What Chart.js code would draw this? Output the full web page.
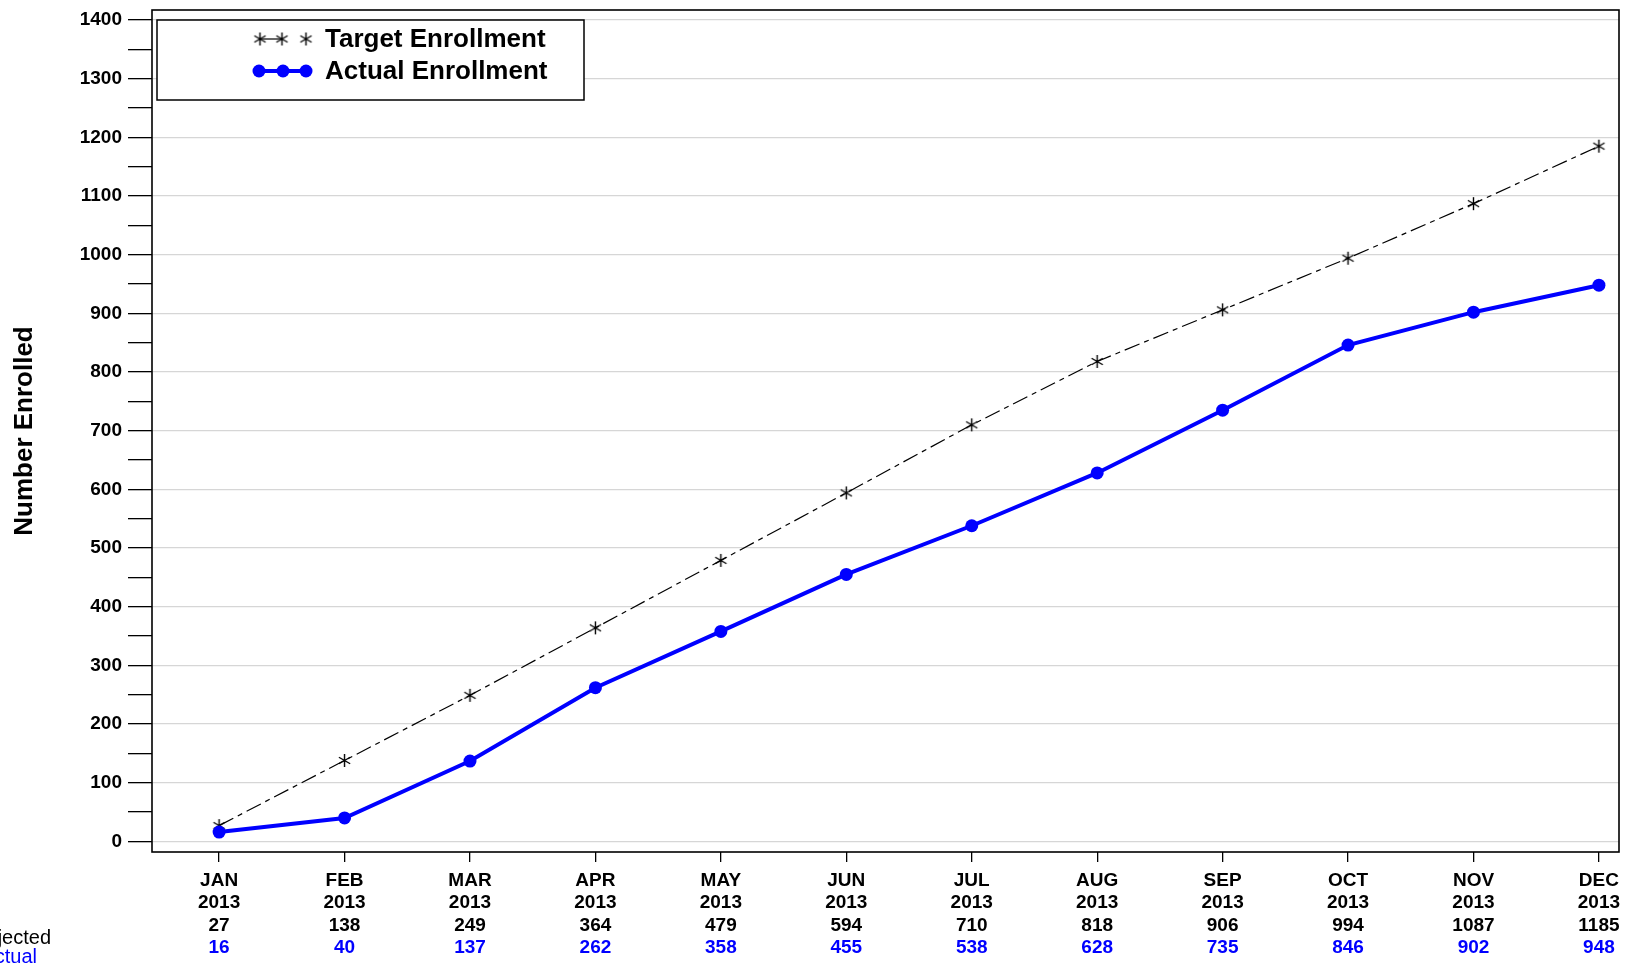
<!DOCTYPE html>
<html>
<head>
<meta charset="utf-8">
<script src="https://cdn.jsdelivr.net/npm/chart.js@4.4.1/dist/chart.umd.min.js"></script>
<style>
  html, body { margin: 0; padding: 0; background: #fff; }
  #wrap { position: relative; width: 1633px; height: 968px; }
</style>
</head>
<body>
<div id="wrap"><canvas id="enroll"></canvas></div>
<script>
// values
var months   = ['JAN', 'FEB', 'MAR', 'APR', 'MAY', 'JUN', 'JUL', 'AUG', 'SEP', 'OCT', 'NOV', 'DEC'];
var years    = ['2013', '2013', '2013', '2013', '2013', '2013', '2013', '2013', '2013', '2013', '2013', '2013'];
var target   = [27, 138, 249, 364, 479, 594, 710, 818, 906, 994, 1087, 1185];
var actual   = [16, 40, 137, 262, 358, 455, 538, 628, 735, 846, 902, 948];
var rowNames = ['Projected', 'Actual'];

var BLUE = '#0000ff';
var FONT = "'Liberation Sans', Arial, Helvetica, sans-serif";

// six-spoke asterisk used as the target marker
function makeAsterisk(size) {
  var c = document.createElement('canvas');
  c.width = size; c.height = size;
  var g = c.getContext('2d');
  var r = size / 2 - 1, m = size / 2;
  g.strokeStyle = '#000';
  g.lineWidth = 1.4;
  g.beginPath();
  [90, 30, -30].forEach(function (deg) {
    var a = deg * Math.PI / 180;
    g.moveTo(m - r * Math.cos(a), m - r * Math.sin(a));
    g.lineTo(m + r * Math.cos(a), m + r * Math.sin(a));
  });
  g.stroke();
  return c;
}
var star = makeAsterisk(15);

function toPoints(arr) {
  return arr.map(function (v, i) { return { x: i, y: v }; });
}

// frame, custom legend and the four-row x labels
var decor = {
  id: 'decor',
  afterDraw: function (chart) {
    var ctx = chart.ctx, a = chart.chartArea, xs = chart.scales.x;
    ctx.save();

    ctx.strokeStyle = '#000';
    ctx.lineWidth = 1.6;
    ctx.strokeRect(a.left, a.top, a.right - a.left, a.bottom - a.top);

    // legend box
    ctx.fillStyle = '#fff';
    ctx.fillRect(157, 20, 427, 80);
    ctx.lineWidth = 1.5;
    ctx.strokeRect(157, 20, 427, 80);

    var dsT = chart.data.datasets[1], dsA = chart.data.datasets[0];
    ctx.strokeStyle = '#000'; ctx.lineWidth = 1.2;
    ctx.beginPath(); ctx.moveTo(260, 39); ctx.lineTo(282, 39); ctx.stroke();
    [260, 282, 306].forEach(function (x) { ctx.drawImage(star, x - 7.5, 39 - 7.5); });

    ctx.strokeStyle = BLUE; ctx.lineWidth = 4;
    ctx.beginPath(); ctx.moveTo(259, 71); ctx.lineTo(306, 71); ctx.stroke();
    ctx.fillStyle = BLUE;
    [259, 283, 306].forEach(function (x) { ctx.beginPath(); ctx.arc(x, 71, 6.5, 0, Math.PI * 2); ctx.fill(); });

    ctx.fillStyle = '#000';
    ctx.font = 'bold 26px ' + FONT;
    ctx.textAlign = 'left'; ctx.textBaseline = 'middle';
    ctx.fillText(dsT.label, 325, 40);
    ctx.fillText(dsA.label, 325, 72);

    // x labels
    ctx.font = 'bold 19px ' + FONT;
    ctx.textAlign = 'center'; ctx.textBaseline = 'alphabetic';
    months.forEach(function (m, i) {
      var x = xs.getPixelForValue(i);
      ctx.fillStyle = '#000';
      ctx.fillText(m, x, 885.5);
      ctx.fillText(years[i], x, 908);
      ctx.fillText(String(target[i]), x, 930.5);
      ctx.fillStyle = BLUE;
      ctx.fillText(String(actual[i]), x, 953);
    });

    // row names, cut off at the left edge as in the original
    ctx.font = '20px ' + FONT;
    ctx.textAlign = 'right';
    ctx.fillStyle = '#000';
    ctx.fillText(rowNames[0], 51, 944);
    ctx.fillStyle = BLUE;
    ctx.fillText(rowNames[1], 37, 963);
    ctx.restore();
  }
};

new Chart(document.getElementById('enroll').getContext('2d'), {
  type: 'line',
  data: {
    datasets: [
      {
        label:            'Actual Enrollment',
        data:             toPoints(actual),
        borderColor:      BLUE,
        backgroundColor:  BLUE,
        borderWidth:      4,
        pointRadius:      6.5,
        pointBorderWidth: 0,
        pointBackgroundColor: BLUE,
        tension:          0,
        order:            0,
      },
      {
        label:           'Target Enrollment',
        data:            toPoints(target),
        borderColor:     '#000',
        borderWidth:     1.2,
        borderDash:      [16, 5, 5, 5],
        pointStyle:      star,
        pointRadius:     7,
        tension:         0,
        order:           1,
      },
    ],
  },
  options: {
    responsive:          true,
    maintainAspectRatio: false,
    animation:           false,
    layout:  { padding: { top: 10, right: 14, left: 0, bottom: 0 } },
    plugins: { legend: { display: false }, tooltip: { enabled: false } },
    scales: {
      x: {
        type: 'linear',
        min: -0.535,
        max: 11.16,
        border: { display: false },
        grid: { drawOnChartArea: false, drawTicks: true, tickLength: 10, color: '#000', lineWidth: 1.3 },
        ticks: { stepSize: 1, includeBounds: false, autoSkip: false, callback: function () { return ''; } },
        afterFit: function (s) { s.height = 116; s.paddingLeft = 0; s.paddingRight = 0; },
      },
      y: {
        min: -18,
        max: 1417,
        border: { display: false },
        grid: {
          color: function (c) { return c.tick && c.tick.value % 100 === 0 ? '#d6d6d6' : 'transparent'; },
          tickColor: '#000',
          tickLength: 24,
          lineWidth: 1.3,
        },
        ticks: {
          stepSize: 50,
          includeBounds: false,
          autoSkip: false,
          padding: 6,
          color: '#000',
          font: { family: FONT, size: 19, weight: 'bold' },
          callback: function (v) { return v % 100 === 0 ? String(v) : ''; },
        },
        title: {
          display: true,
          text: 'Number Enrolled',
          color: '#000',
          font: { family: FONT, size: 26, weight: 'bold' },
          padding: { top: 9, bottom: 0 },
        },
        afterFit: function (s) { s.width = 152; s.paddingTop = 0; s.paddingBottom = 0; },
      },
    },
  },
  plugins: [decor],
});
</script>
</body>
</html>
